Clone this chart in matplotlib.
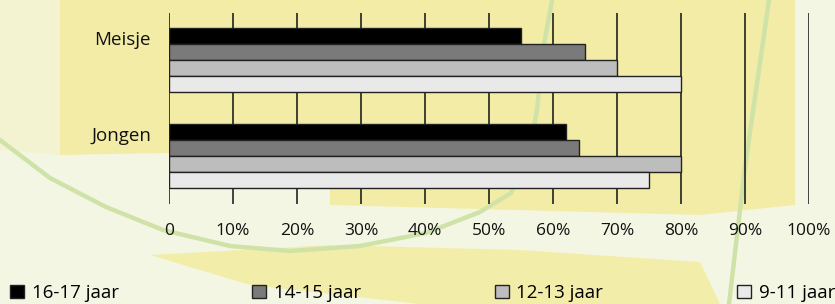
import numpy as np
import matplotlib.pyplot as plt
from matplotlib.patches import Polygon, Patch

groups = ['Meisje', 'Jongen']
ages = ['16-17 jaar', '14-15 jaar', '12-13 jaar', '9-11 jaar']
values = {
    '16-17 jaar': [55, 62],
    '14-15 jaar': [65, 64],
    '12-13 jaar': [70, 80],
    '9-11 jaar': [80, 75],
}
colors = ['#000000', '#7a7a7a', '#bdbdbd', '#e9e9e9']
ticks = [0, 10, 20, 30, 40, 50, 60, 70, 80, 90, 100]
tick_labels = ['0'] + ['%d%%' % t for t in ticks[1:]]

plt.rcParams['font.family'] = ['Open Sans', 'DejaVu Sans']

fig = plt.figure(figsize=(8.35, 3.04), dpi=100)
fig.patch.set_facecolor('#f4f6e4')

# background decoration (map-like)
bg = fig.add_axes([0, 0, 1, 1], zorder=-1)
bg.set_xlim(0, 835)
bg.set_ylim(304, 0)
bg.axis('off')
yellow = '#f3e98c'
bg.add_patch(Polygon([(60, 0), (795, 0), (795, 205), (700, 215), (330, 205),
                      (330, 150), (60, 155)], closed=True,
                     facecolor=yellow, edgecolor='none', alpha=0.7))
bg.add_patch(Polygon([(0, 0), (60, 0), (60, 155), (0, 150)], closed=True,
                     facecolor=yellow, edgecolor='none', alpha=0.2))
bg.add_patch(Polygon([(150, 255), (330, 245), (520, 250), (700, 262),
                      (720, 304), (420, 304), (250, 285)], closed=True,
                     facecolor=yellow, edgecolor='none', alpha=0.65))
arc_x = [0, 50, 106, 163, 230, 290, 360, 426, 480, 511, 528, 537, 543, 552]
arc_y = [140, 178, 207, 230, 246, 251, 246, 233, 212, 193, 160, 110, 50, 0]
bg.plot(arc_x, arc_y, color='#cfe3a8', lw=3.2, solid_capstyle='round')
bg.plot([769, 745, 729], [0, 167, 304], color='#cfe3a8', lw=3.2)

ax = fig.add_axes([169 / 835, 1 - 204 / 304, 640 / 835, 191 / 304])
ax.patch.set_alpha(0)
h = 1 / 6
y = np.arange(len(groups))
for i, (age, c) in enumerate(zip(ages, colors)):
    ax.barh(y + (i - 1.5) * h, values[age], height=h, color=c,
            edgecolor='#222222', linewidth=1.0, zorder=3)

ax.set_xlim(0, 100)
ax.set_ylim(1.5, -0.49)
ax.set_xticks(ticks)
ax.set_xticklabels(tick_labels)
# group names sit level with the top bar of each group
ax.set_yticks(y - 1.5 * h + 0.02)
ax.set_yticklabels(groups)
ax.tick_params(axis='both', length=0, colors='#111111')
ax.tick_params(axis='x', pad=14, labelsize=12.5)
ax.tick_params(axis='y', pad=13, labelsize=13.5)
ax.grid(axis='x', color='#111111', linewidth=1.1)
ax.set_axisbelow(True)
for s in ax.spines.values():
    s.set_visible(False)

handles = [Patch(facecolor=c, edgecolor='#222222', linewidth=1.0) for c in colors]
fig.legend(handles, ages, loc='center left', ncol=4, mode='expand',
           bbox_to_anchor=(10 / 835, 1 - 293 / 304, 825 / 835, 0), frameon=False,
           fontsize=13.5, handlelength=0.75, handleheight=0.75,
           handletextpad=0.4, borderaxespad=0, borderpad=0)

fig.savefig('out.png', dpi=100)
